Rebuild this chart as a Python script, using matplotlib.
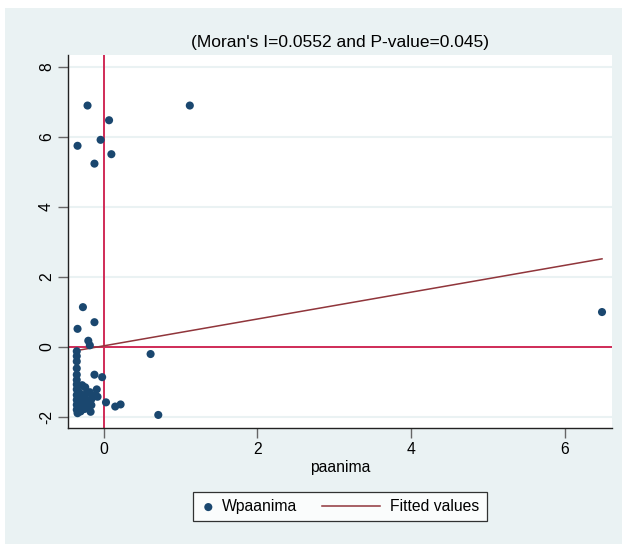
import matplotlib
matplotlib.use('Agg')
import matplotlib.pyplot as plt
from matplotlib.legend_handler import HandlerBase
from matplotlib.lines import Line2D

# paanima (x) vs spatial lag Wpaanima (y)
paanima = [-0.21, 1.12, 0.07, -0.04, -0.34, 0.10, -0.12,
           -0.27, -0.12, -0.34, -0.20, -0.18,
           6.48, 0.61,
           -0.35, -0.35, -0.35, -0.35, -0.35, -0.35, -0.35, -0.35, -0.35,
           -0.35, -0.35, -0.35, -0.34,
           -0.32, -0.31, -0.30, -0.28, -0.28, -0.27, -0.25, -0.24, -0.23,
           -0.22, -0.20, -0.18, -0.16, -0.16, -0.17, -0.13, -0.09, -0.08,
           -0.12, -0.02, 0.03, 0.15, 0.22, 0.71]
wpaanima = [6.89, 6.89, 6.47, 5.91, 5.74, 5.50, 5.23,
            1.13, 0.70, 0.51, 0.17, 0.04,
            0.99, -0.21,
            -0.13, -0.27, -0.42, -0.62, -0.80, -0.95, -1.08, -1.22, -1.38,
            -1.52, -1.66, -1.80, -1.90,
            -1.30, -1.70, -1.85, -1.10, -1.45, -1.60, -1.78, -1.16, -1.35,
            -1.55, -1.72, -1.30, -1.50, -1.67, -1.86, -1.40, -1.22, -1.43,
            -0.80, -0.87, -1.59, -1.71, -1.65, -1.95]

# fitted regression line end points
fit_x = [-0.35, 6.48]
fit_y = [-0.11, 2.51]

x_ticks = [0, 2, 4, 6]
y_ticks = [-2, 0, 2, 4, 6, 8]
title = "(Moran's I=0.0552 and P-value=0.045)"

navy = '#1A476F'
maroon = '#90353B'
refred = '#D02B57'
bg = '#EAF2F3'

plt.rcParams['font.family'] = ['Liberation Sans', 'DejaVu Sans']
plt.rcParams['axes.unicode_minus'] = False


# legend key for the line: drawn longer, reaching back into the column gap
class LongLineHandler(HandlerBase):
    def create_artists(self, legend, orig_handle, xdescent, ydescent,
                       width, height, fontsize, trans):
        y = height / 2 - ydescent
        ln = Line2D([-xdescent - 2.95 * fontsize, -xdescent + 0.75 * fontsize], [y, y],
                    color=orig_handle.get_color(), lw=orig_handle.get_linewidth())
        ln.set_transform(trans)
        return [ln]


fig = plt.figure(figsize=(6.22, 5.44), dpi=100)
fig.patch.set_facecolor('white')
# light bluish graph region with a thin white edge at top and left
fig.add_artist(plt.Rectangle((5 / 622, 0), 1, 1 - 8 / 544, transform=fig.transFigure,
                             facecolor=bg, edgecolor='none', zorder=0))

ax = fig.add_axes([68 / 622, 1 - 428 / 544, (611.7 - 68) / 622, (428 - 55) / 544])
ax.set_facecolor('white')

for yt in y_ticks:
    ax.axhline(yt, color=bg, lw=1.5, zorder=0)

ax.axvline(0, color=refred, lw=1.4, zorder=1)
ax.axhline(0, color=refred, lw=1.4, zorder=1)

pts = ax.scatter(paanima, wpaanima, s=34, color=navy, edgecolors='none', zorder=3,
                 label='Wpaanima')
fit, = ax.plot(fit_x, fit_y, color=maroon, lw=1.1, zorder=2, label='Fitted values')

ax.set_xlim(-0.464, 6.606)
ax.set_ylim(-2.323, 8.334)
ax.set_xticks(x_ticks)
ax.set_yticks(y_ticks)
ax.tick_params(axis='both', length=7, width=1, color='#666666', labelsize=11.3,
               pad=3)
for lab in ax.get_yticklabels():
    lab.set_rotation(90)
    lab.set_va('center')

for side in ['top', 'right']:
    ax.spines[side].set_visible(False)
for side in ['left', 'bottom']:
    ax.spines[side].set_color('#222222')
    ax.spines[side].set_linewidth(1)

ax.set_xlabel('paanima', fontsize=11.3, labelpad=2)
ax.set_title(title, fontsize=12.5, pad=6)

leg = fig.legend(handles=[pts, fit], loc='center', bbox_to_anchor=(340 / 622, 1 - 506.7 / 544),
                 ncol=2, fontsize=11.3, frameon=True, fancybox=False, handlelength=1.0,
                 handletextpad=0.4, columnspacing=4.5, borderpad=0.45, scatterpoints=1,
                 handler_map={fit: LongLineHandler()})
leg.get_frame().set_edgecolor('black')
leg.get_frame().set_linewidth(0.9)

fig.savefig('out.png', dpi=100, facecolor=fig.get_facecolor())
